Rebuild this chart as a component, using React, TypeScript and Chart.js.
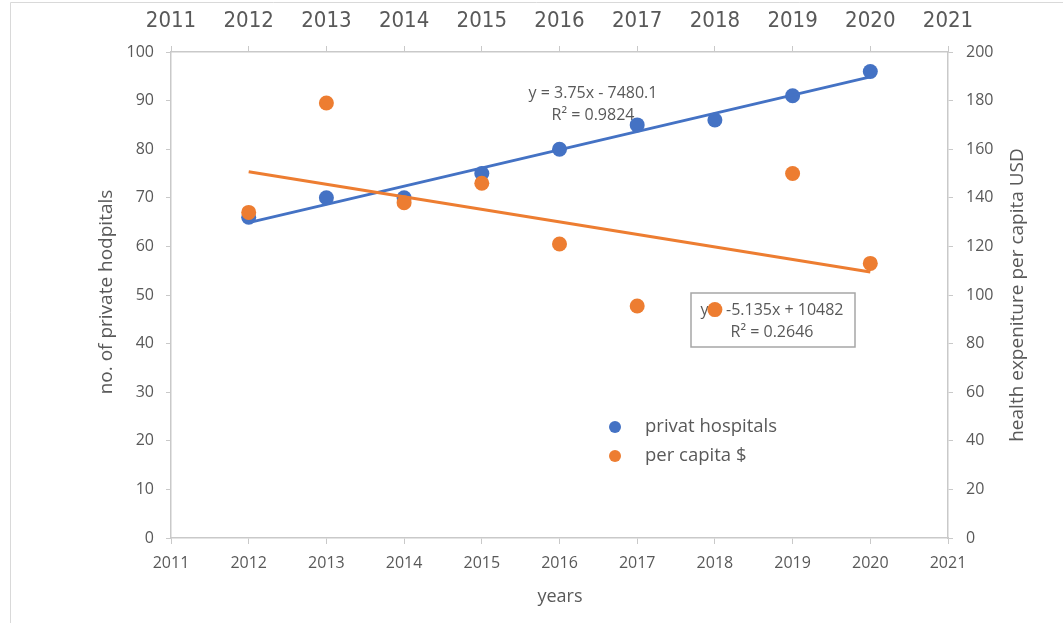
import React, { useEffect, useRef } from "react";
import { Chart, registerables } from "chart.js";
Chart.register(...registerables);

const years = [2012, 2013, 2014, 2015, 2016, 2017, 2018, 2019, 2020];
const privateHospitals = [66, 70, 70, 75, 80, 85, 86, 91, 96];
const perCapitaUSD = [134, 179, 138, 146, 121, 95.5, 94, 150, 113];
const xMin = 2011;
const xMax = 2021;
const leftMax = 100;
const leftStep = 10;
const rightMax = 200;
const rightStep = 20;
const seriesNames = ["privat hospitals", "per capita $"];
const trendLabelBlue = ["y = 3.75x - 7480.1", "R\u00B2 = 0.9824"];
const trendLabelOrange = ["y = -5.135x + 10482", "R\u00B2 = 0.2646"];
const xTitle = "years";
const leftTitle = "no. of private hodpitals";
const rightTitle = "health expeniture per capita USD";

const BLUE = "#4472C4";
const ORANGE = "#ED7D31";
const TEXT = "#595959";
const AXIS = "#c9c9c9";
const FONT = '"Open Sans", "Noto Sans", sans-serif';
const NARROW = '"Liberation Sans Narrow", "DejaVu Sans Condensed", sans-serif';

function linFit(xs: number[], ys: number[]) {
  const n = xs.length;
  const mx = xs.reduce((a, b) => a + b, 0) / n;
  const my = ys.reduce((a, b) => a + b, 0) / n;
  let sxy = 0, sxx = 0;
  for (let i = 0; i < n; i++) {
    sxy += (xs[i] - mx) * (ys[i] - my);
    sxx += (xs[i] - mx) * (xs[i] - mx);
  }
  const m = sxy / sxx;
  return { m, b: my - m * mx };
}

export default function App() {
  const ref = useRef<HTMLCanvasElement | null>(null);
  useEffect(() => {
    if (!ref.current) return;
    const fb = linFit(years, privateHospitals);
    const fo = linFit(years, perCapitaUSD);
    const x0 = years[0];
    const x1 = years[years.length - 1];

    const overlay = {
      id: "overlay",
      beforeDatasetsDraw(chart: any) {
        const ctx = chart.ctx;
        ctx.save();
        ctx.fillStyle = TEXT;
        ctx.textAlign = "center";
        ctx.textBaseline = "middle";
        ctx.font = `16px ${FONT}`;
        ctx.fillText(trendLabelBlue[0], 593, 93);
        ctx.fillText(trendLabelBlue[1], 593, 115);
        // orange label box
        ctx.strokeStyle = "#a6a6a6";
        ctx.lineWidth = 1.5;
        ctx.fillStyle = "#ffffff";
        ctx.fillRect(691, 293, 164, 54);
        ctx.strokeRect(691, 293, 164, 54);
        ctx.fillStyle = TEXT;
        ctx.fillText(trendLabelOrange[0], 772, 310);
        ctx.fillText(trendLabelOrange[1], 772, 332);
        ctx.restore();
      },
      afterDraw(chart: any) {
        const ctx = chart.ctx;
        ctx.save();
        // outer frame
        ctx.strokeStyle = "#d9d9d9";
        ctx.lineWidth = 1;
        ctx.beginPath();
        ctx.moveTo(10.5, 623);
        ctx.lineTo(10.5, 2.5);
        ctx.lineTo(1063, 2.5);
        ctx.stroke();
        ctx.fillStyle = TEXT;
        ctx.textAlign = "center";
        ctx.textBaseline = "middle";
        ctx.font = `18px ${FONT}`;
        ctx.fillText(xTitle, 560, 597);
        ctx.font = `19px ${FONT}`;
        ctx.save();
        ctx.translate(107, 292);
        ctx.rotate(-Math.PI / 2);
        ctx.fillText(leftTitle, 0, 0);
        ctx.restore();
        ctx.save();
        ctx.translate(1018, 295);
        ctx.rotate(-Math.PI / 2);
        ctx.fillText(rightTitle, 0, 0);
        ctx.restore();
        // legend
        const items = [
          { c: BLUE, t: seriesNames[0], y: 427 },
          { c: ORANGE, t: seriesNames[1], y: 456 },
        ];
        ctx.textAlign = "left";
        ctx.font = `18.5px ${FONT}`;
        for (const it of items) {
          ctx.fillStyle = it.c;
          ctx.beginPath();
          ctx.arc(615, it.y, 6, 0, Math.PI * 2);
          ctx.fill();
          ctx.fillStyle = TEXT;
          ctx.fillText(it.t, 645, it.y);
        }
        ctx.restore();
      },
    };

    const tickFont = { family: FONT, size: 16 };
    const chart = new Chart(ref.current, {
      type: "scatter",
      data: {
        datasets: [
          {
            label: "trend per capita",
            data: [
              { x: x0, y: fo.m * x0 + fo.b },
              { x: x1, y: fo.m * x1 + fo.b },
            ],
            showLine: true,
            borderColor: ORANGE,
            borderWidth: 3,
            pointRadius: 0,
            yAxisID: "y2",
            order: 0,
          },
          {
            label: "trend hospitals",
            data: [
              { x: x0, y: fb.m * x0 + fb.b },
              { x: x1, y: fb.m * x1 + fb.b },
            ],
            showLine: true,
            borderColor: BLUE,
            borderWidth: 3,
            pointRadius: 0,
            yAxisID: "y",
            order: 1,
          },
          {
            label: seriesNames[1],
            data: years.map((x, i) => ({ x, y: perCapitaUSD[i] })),
            backgroundColor: ORANGE,
            borderColor: ORANGE,
            pointRadius: 7.5,
            borderWidth: 0,
            yAxisID: "y2",
            order: 2,
          },
          {
            label: seriesNames[0],
            data: years.map((x, i) => ({ x, y: privateHospitals[i] })),
            backgroundColor: BLUE,
            borderColor: BLUE,
            pointRadius: 7.5,
            borderWidth: 0,
            yAxisID: "y",
            order: 3,
          },
        ],
      },
      options: {
        animation: false,
        responsive: false,
        maintainAspectRatio: false,
        layout: { padding: 0 },
        plugins: { legend: { display: false }, tooltip: { enabled: false } },
        scales: {
          x: {
            type: "linear",
            position: "bottom",
            min: xMin,
            max: xMax,
            ticks: { stepSize: 1, color: TEXT, font: tickFont, padding: 10, callback: (v: any) => String(v), maxRotation: 0 },
            grid: { drawOnChartArea: false, tickLength: 6, color: AXIS },
            border: { color: AXIS, width: 1.5 },
            afterFit: (s: any) => { s.height = 85; },
          },
          x2: {
            type: "linear",
            position: "top",
            min: xMin,
            max: xMax,
            ticks: { stepSize: 1, color: TEXT, font: { family: NARROW, size: 22 }, padding: 12, callback: (v: any) => String(v), maxRotation: 0 },
            grid: { drawOnChartArea: false, tickLength: 6, color: AXIS },
            border: { color: AXIS, width: 1.5 },
            afterFit: (s: any) => { s.height = 52; },
          },
          y: {
            type: "linear",
            position: "left",
            min: 0,
            max: leftMax,
            ticks: { stepSize: leftStep, color: TEXT, font: tickFont, padding: 12 },
            grid: { drawOnChartArea: false, tickLength: 5, color: AXIS },
            border: { color: AXIS, width: 1.5 },
            afterFit: (s: any) => { s.width = 171; },
          },
          y2: {
            type: "linear",
            position: "right",
            min: 0,
            max: rightMax,
            ticks: { stepSize: rightStep, color: TEXT, font: tickFont, padding: 13 },
            grid: { drawOnChartArea: false, tickLength: 5, color: AXIS },
            border: { color: AXIS, width: 1.5 },
            afterFit: (s: any) => { s.width = 115; },
          },
        },
      },
      plugins: [overlay],
    } as any);
    return () => chart.destroy();
  }, []);
  return (
    <div style={{ position: "fixed", left: 0, top: 0, width: 1063, height: 623, background: "#fff" }}>
      <canvas ref={ref} width={1063} height={623} style={{ width: 1063, height: 623 }} />
    </div>
  );
}
